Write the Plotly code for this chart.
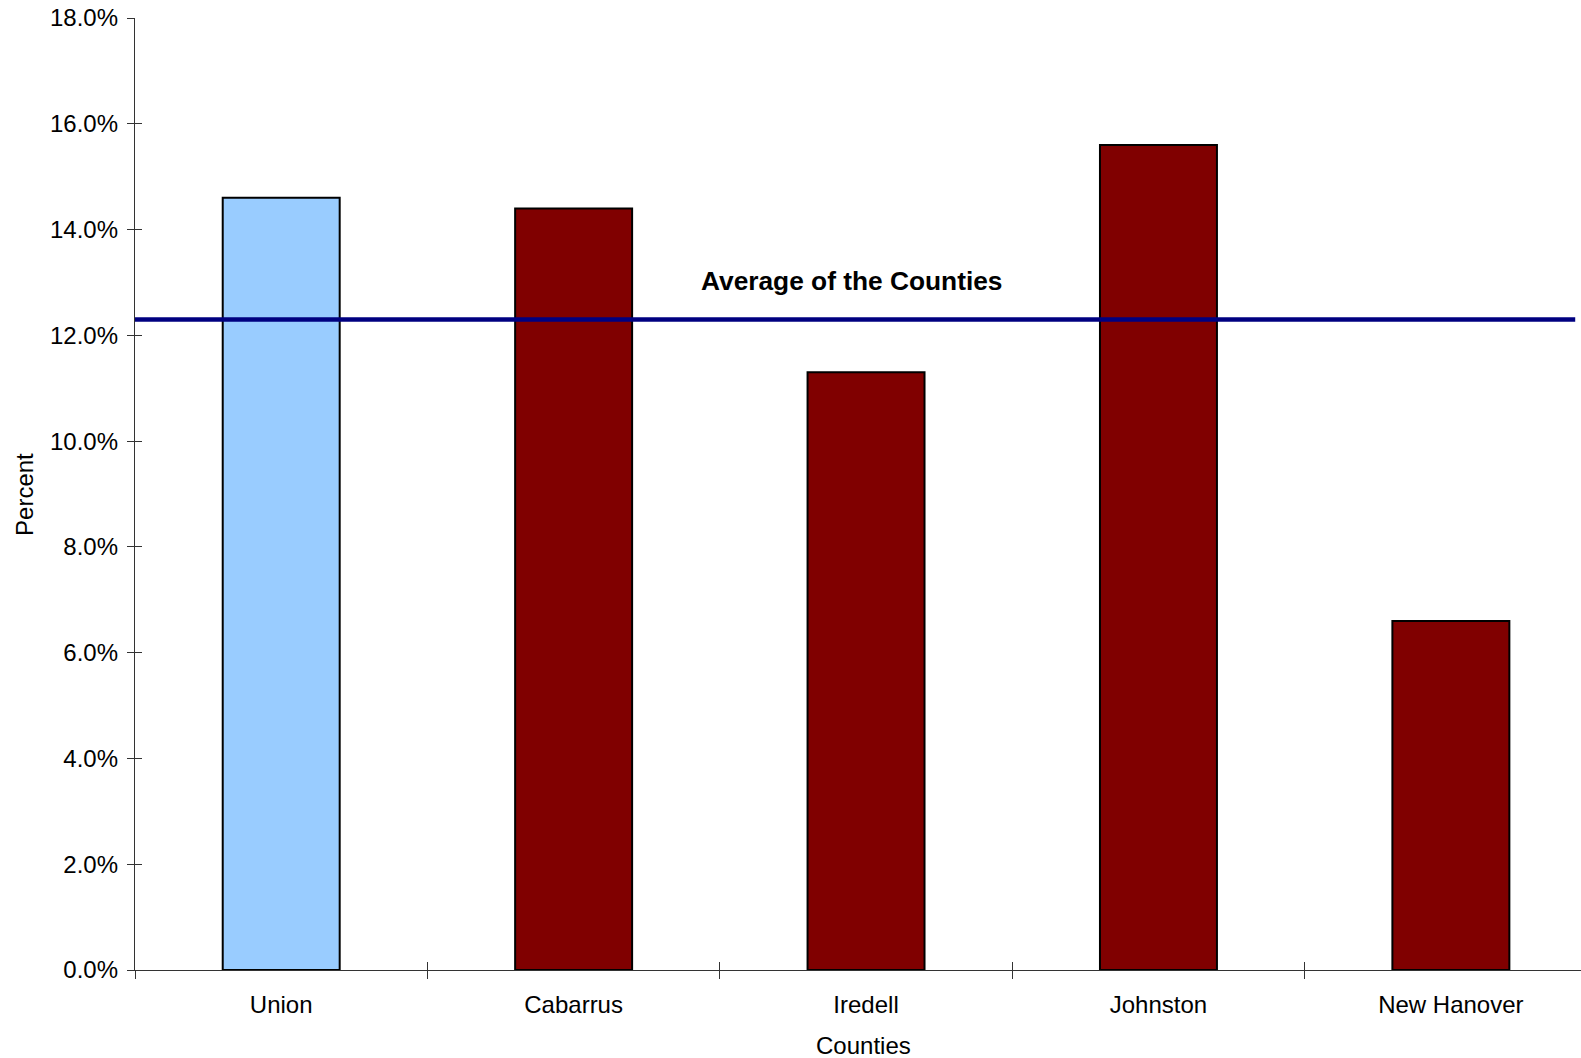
import plotly.graph_objects as go

# County values (share, as fractions)
counties = ["Union", "Cabarrus", "Iredell", "Johnston", "New Hanover"]
percent = [0.146, 0.144, 0.113, 0.156, 0.066]
bar_colors = ["#99CCFF", "#800000", "#800000", "#800000", "#800000"]
average_value = 0.123
average_label = "Average of the Counties"
x_title = "Counties"
y_title = "Percent"

FONT = "Liberation Sans, Arial, sans-serif"
y_range = [0, 0.18]
x_range = [-0.5, 4.445]

fig = go.Figure()

fig.add_trace(go.Bar(
    x=counties, y=percent,
    marker=dict(color=bar_colors, line=dict(color="black", width=2)),
    width=0.4, showlegend=False, hoverinfo="x+y",
))

# invisible copy on the overlay axes so the inside ticks line up with categories
fig.add_trace(go.Bar(
    x=counties, y=percent, xaxis="x2", yaxis="y2",
    marker=dict(color="rgba(0,0,0,0)", line=dict(width=0)), width=0.4,
    showlegend=False, hoverinfo="skip",
))

# horizontal average line across the plot
fig.add_shape(type="line", xref="paper", yref="y",
              x0=0, x1=0.996, y0=average_value, y1=average_value,
              line=dict(color="#000080", width=4.5), layer="above")

fig.add_annotation(text="<b>" + average_label + "</b>",
                   xref="paper", yref="y", x=0.4957, y=average_value,
                   xanchor="center", yanchor="middle", yshift=38,
                   showarrow=False, font=dict(family=FONT, size=26.3, color="black"))

axis_font = dict(family=FONT, size=24, color="black")

# axis titles
fig.add_annotation(text=x_title, xref="paper", yref="paper", x=0.504, y=-0.0788,
                   xanchor="center", yanchor="middle", showarrow=False, font=axis_font)
fig.add_annotation(text=y_title, xref="paper", yref="paper", x=-0.0768, y=0.5,
                   xanchor="center", yanchor="middle", textangle=-90,
                   showarrow=False, font=axis_font)

fig.update_layout(
    width=1581, height=1058,
    margin=dict(l=135, r=0, t=18, b=88),
    paper_bgcolor="white", plot_bgcolor="white",
    bargap=0.6,
    xaxis=dict(
        type="category", range=x_range,
        showline=True, linecolor="#333333", linewidth=1.3,
        ticks="outside", ticklen=8, tickcolor="#333333", tickwidth=1.3,
        tickson="boundaries", ticklabelstandoff=13,
        tickfont=axis_font, showgrid=False, zeroline=False,
    ),
    yaxis=dict(
        range=y_range, dtick=0.02, tickformat=".1%",
        showline=True, linecolor="#333333", linewidth=1.3,
        ticks="outside", ticklen=7, tickcolor="#333333", tickwidth=1.3,
        tickfont=axis_font, showgrid=False, zeroline=False,
        ticklabelstandoff=4,
    ),
    xaxis2=dict(
        type="category", range=x_range, overlaying="x", side="bottom",
        ticks="inside", ticklen=8, tickcolor="#333333", tickwidth=1.3,
        tickson="boundaries", showticklabels=False, showline=False,
        showgrid=False, zeroline=False,
    ),
    yaxis2=dict(
        range=y_range, dtick=0.02, overlaying="y", side="left",
        ticks="inside", ticklen=7, tickcolor="#333333", tickwidth=1.3,
        showticklabels=False, showline=False, showgrid=False, zeroline=False,
    ),
)

fig.write_html("out.html")
